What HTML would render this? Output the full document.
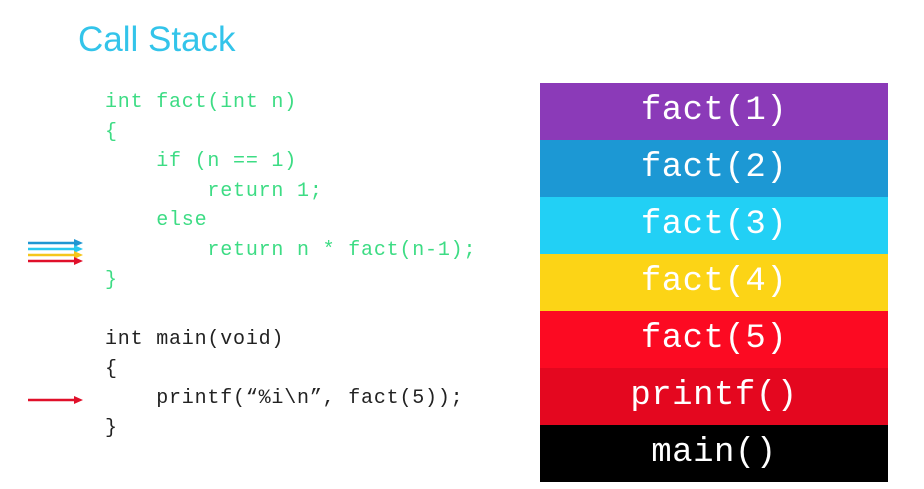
<!DOCTYPE html><html><head><style>
body{margin:0;width:924px;height:489px;background:#fff;position:relative;overflow:hidden;font-family:"Liberation Sans",sans-serif}
.t{position:absolute;left:78px;top:20px;font-size:35px;color:#33c4ea;font-weight:300}
.c{position:absolute;left:105px;font-family:"Liberation Mono",monospace;font-size:20px;letter-spacing:0.8px;white-space:pre;line-height:20px}
.g{color:#3ddc84}.k{color:#222}
.s{position:absolute;left:540px;width:348px;height:57px;color:#fff;font-family:"Liberation Mono",monospace;font-size:34px;text-align:center;line-height:57px;letter-spacing:0.5px}
</style></head><body>
<div class="t">Call Stack</div>
<div class="c g" style="top:93px">int fact(int n)</div>
<div class="c g" style="top:123px">{</div>
<div class="c g" style="top:152px">    if (n == 1)</div>
<div class="c g" style="top:182px">        return 1;</div>
<div class="c g" style="top:211px">    else</div>
<div class="c g" style="top:241px">        return n * fact(n-1);</div>
<div class="c g" style="top:271px">}</div>
<div class="c k" style="top:330px">int main(void)</div>
<div class="c k" style="top:360px">{</div>
<div class="c k" style="top:389px">    printf(“%i\n”, fact(5));</div>
<div class="c k" style="top:419px">}</div>
<svg style="position:absolute;left:0;top:0" width="924" height="489">
<g stroke-width="2.5">
<line x1="28" y1="243" x2="76" y2="243" stroke="#1f96d2"/><polygon points="74,239 83,243 74,247" fill="#1f96d2"/>
<line x1="28" y1="249" x2="76" y2="249" stroke="#29c8ef"/><polygon points="74,245 83,249 74,253" fill="#29c8ef"/>
<line x1="28" y1="255" x2="76" y2="255" stroke="#f5c61a"/><polygon points="74,251 83,255 74,259" fill="#f5c61a"/>
<line x1="28" y1="261" x2="76" y2="261" stroke="#e0102a"/><polygon points="74,257 83,261 74,265" fill="#e0102a"/>
<line x1="28" y1="400" x2="76" y2="400" stroke="#e0102a"/><polygon points="74,396 83,400 74,404" fill="#e0102a"/>
</g></svg>
<div class="s" style="top:83px;background:#8b3ab8">fact(1)</div>
<div class="s" style="top:140px;background:#1c98d4">fact(2)</div>
<div class="s" style="top:197px;background:#22d0f5">fact(3)</div>
<div class="s" style="top:254px;background:#fcd416">fact(4)</div>
<div class="s" style="top:311px;background:#fc0a22">fact(5)</div>
<div class="s" style="top:368px;background:#e4071f">printf()</div>
<div class="s" style="top:425px;background:#000">main()</div>
</body></html>
